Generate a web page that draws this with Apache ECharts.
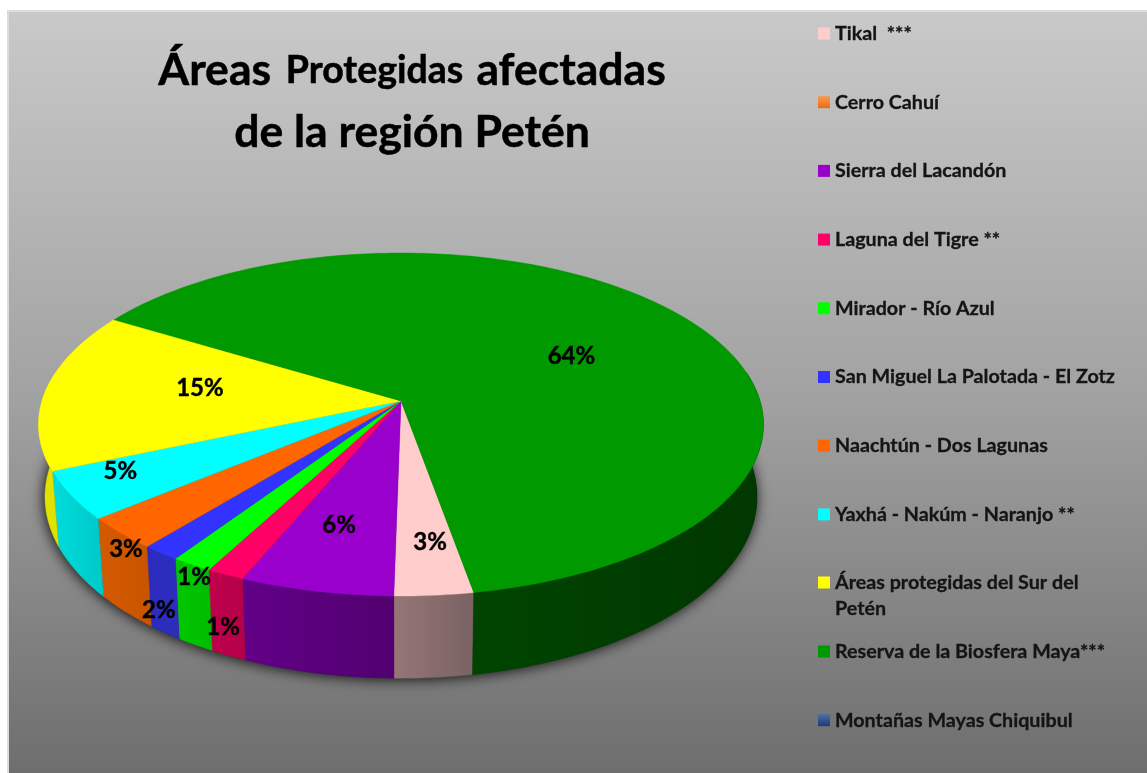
<!DOCTYPE html>
<html><head><meta charset="utf-8">
<style>html,body{margin:0;padding:0;background:#fff}#c{width:1147px;height:773px}</style>
<script src="https://cdn.jsdelivr.net/npm/echarts@6/dist/echarts.min.js"></script>
</head><body><div id="c"></div>
<script>
var categories = ["Tikal  ***","Cerro Cahuí","Sierra del Lacandón","Laguna del Tigre **","Mirador - Río Azul","San Miguel La Palotada - El Zotz","Naachtún - Dos Lagunas","Yaxhá - Nakúm - Naranjo **","Áreas protegidas del Sur del Petén","Reserva de la Biosfera Maya***","Montañas Mayas Chiquibul"];
var values = [3.08,0,6.03,1.5,1.6,1.5,3.08,4.55,15.1,63.56,0];
var percentLabels = ["3%","","6%","1%","1%","2%","3%","5%","15%","64%",""];
var topColors = ["#FFCCCC",{type:'linear',x:0,y:0,x2:0,y2:1,colorStops:[{offset:0,color:'#F79A50'},{offset:1,color:'#EE6A10'}]},"#9900CC","#FF0066","#00FF00","#3333FF","#FF6600","#00FFFF","#FFFF00","#009900",{type:'linear',x:0,y:0,x2:0,y2:1,colorStops:[{offset:0,color:'#4F6FA8'},{offset:1,color:'#1B3A7C'}]}];
var wallColors = [["#967575","#7A6363"],["#000","#000"],["#620088","#520070"],["#C0004C","#B4004A"],["#00C800","#00BC00"],["#2A2ABE","#2E2EBC"],["#D45A00","#C85400"],["#00DCDC","#00C8C8"],["#E4E400","#E0E000"],["#004400","#003700"],["#000","#000"]];
var labelOffsets = [[7,11],[0,0],[-5,-3],[-60,110],[-66,66],[-80,107],[-85,59],[-55,6],[48,-5],[-26,19],[0,0]];
var startAngle = -10.1;
var fontName = 'Lato, Carlito, Calibri, sans-serif';

var planes = [{rx:359,y0:401,s:168.3,k:0.137},{rx:352.7,y0:472,s:178,k:0.137}];
var cx = 401;
function proj(deg,r,level){
  var p=planes[level],t=deg*Math.PI/180,u=-r*Math.sin(t),v=r*Math.cos(t),w=1-p.k*v;
  return [cx+p.rx*u/w,p.y0+p.s*v/w];
}
function arcPts(a,b,level){
  var pts=[],n=Math.max(2,Math.ceil(Math.abs(b-a)));
  for(var i=0;i<=n;i++){pts.push(proj(a+(b-a)*i/n,1,level));}
  return pts;
}
var total=values.reduce(function(s,v){return s+v;},0);
function sliceStart(i){
  var s=startAngle;
  for(var j=0;j<i;j++){s+=values[j]/total*360;}
  return s;
}
function makeRender(i){
  return function(params,api){
    var val=api.value(0),children=[];
    if(i===0){
      children.push({type:'polygon',z2:0,shape:{points:arcPts(0,360,1)},
        style:{fill:'#222',shadowBlur:14,shadowColor:'rgba(0,0,0,0.9)',shadowOffsetX:-1,shadowOffsetY:1}});
    }
    if(!val){return {type:'group',children:children};}
    var a=sliceStart(i),b=a+val/total*360;
    var ranges=[[-100,100],[260,460],[-460,-260]];
    ranges.forEach(function(rg){
      var lo=Math.max(a,rg[0]),hi=Math.min(b,rg[1]);
      if(hi>lo){
        var pts=arcPts(lo,hi,0).concat(arcPts(lo,hi,1).reverse());
        var fill={type:'linear',x:0,y:0,x2:1,y2:0,colorStops:[{offset:0,color:wallColors[i][0]},{offset:1,color:wallColors[i][1]}]};
        children.push({type:'polygon',z2:2,shape:{points:pts},style:{fill:fill,stroke:fill,lineWidth:0.4}});
      }
    });
    var top=[proj(0,0,0)].concat(arcPts(a,b,0));
    children.push({type:'polygon',z2:10,shape:{points:top},style:{fill:topColors[i],stroke:topColors[i],lineWidth:0.4}});
    if(percentLabels[i]){
      var m=proj((a+b)/2,0.7,0);
      children.push({type:'text',z2:20,style:{text:percentLabels[i],x:m[0]+labelOffsets[i][0],y:m[1]+labelOffsets[i][1],
        font:'bold 24px '+fontName,fill:'#000',stroke:'#000',lineWidth:0.4,align:'center',verticalAlign:'middle'}});
    }
    return {type:'group',children:children};
  };
}
var series=categories.map(function(name,i){
  return {type:'custom',name:name,coordinateSystem:'none',data:[[values[i]]],silent:true,animation:false,
    itemStyle:{color:topColors[i]},renderItem:makeRender(i)};
});
function legendBase(names,top,gap){
  return {orient:'vertical',left:818,top:top,padding:0,itemGap:gap,itemWidth:12,itemHeight:12,icon:'rect',selectedMode:false,
    data:names,textStyle:{fontFamily:fontName,fontWeight:'bold',fontSize:19.7,lineHeight:22,color:'#141414',textBorderColor:'#141414',textBorderWidth:0.3}};
}
var sur=categories[8];
var legendSur=legendBase([sur],543.5,0);
legendSur.textStyle.lineHeight=26;
legendSur.formatter=function(){return '\nÁreas protegidas del Sur del\nPetén';};
var chart=echarts.init(document.getElementById('c'),null,{renderer:'canvas'});
chart.setOption({
  animation:false,
  backgroundColor:'#ffffff',
  graphic:[
    {type:'rect',z:-10,silent:true,shape:{x:7,y:10,width:1140,height:763},style:{fill:'#dcdcdc'}},
    {type:'rect',z:-9,silent:true,shape:{x:9,y:12,width:1138,height:761},style:{fill:{type:'linear',x:0,y:0,x2:0,y2:1,colorStops:[{offset:0,color:'#c9c9c9'},{offset:0.5,color:'#a2a2a2'},{offset:1,color:'#6e6e6e'}]}}}
  ],
  title:{left:412,top:40,textAlign:'center',padding:0,
    text:'{a|Áreas }{b|Protegidas }{a|afectadas}\n{a|de la región Petén}',
    textStyle:{rich:{
      a:{fontFamily:fontName,fontWeight:'bold',fontSize:44.5,lineHeight:62,color:'#000',textBorderColor:'#000',textBorderWidth:0.5},
      b:{fontFamily:fontName,fontWeight:'bold',fontSize:37.5,lineHeight:62,padding:[0,4,0,4],color:'#000',textBorderColor:'#000',textBorderWidth:0.5}}}},
  legend:[legendBase(categories.slice(0,8),22.5,46.7),legendSur,legendBase(categories.slice(9),640.5,46.7)],
  series:series
});
</script></body></html>
